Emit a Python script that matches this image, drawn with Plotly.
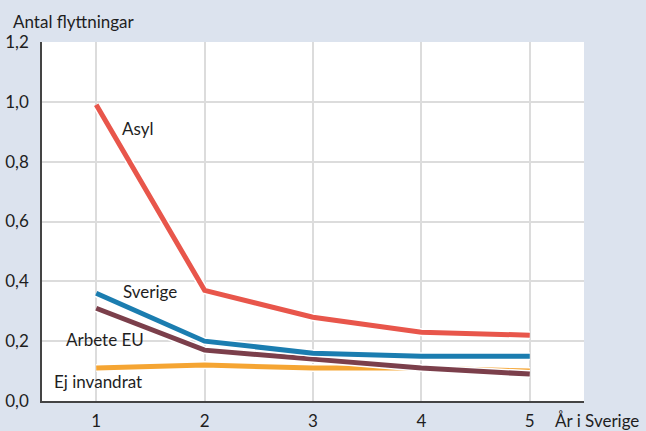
import plotly.graph_objects as go

years = [1, 2, 3, 4, 5]
asyl = [0.99, 0.37, 0.28, 0.23, 0.22]
sverige = [0.36, 0.20, 0.16, 0.15, 0.15]
arbete_eu = [0.31, 0.17, 0.14, 0.11, 0.09]
ej_invandrat = [0.11, 0.12, 0.11, 0.11, 0.10]
y_ticks = [0, 0.2, 0.4, 0.6, 0.8, 1.0, 1.2]
y_tick_labels = ["0,0", "0,2", "0,4", "0,6", "0,8", "1,0", "1,2"]

series = [
    ("Ej invandrat", ej_invandrat, "#f5a533"),
    ("Arbete EU", arbete_eu, "#7b3f4b"),
    ("Sverige", sverige, "#1b7db0"),
    ("Asyl", asyl, "#e8564b"),
]

FONT = "Lato"
fig = go.Figure()
for name, vals, col in series:
    fig.add_trace(go.Scatter(x=years, y=vals, mode="lines",
                             line=dict(color="white", width=8),
                             hoverinfo="skip", showlegend=False))
    fig.add_trace(go.Scatter(x=years, y=vals, mode="lines", name=name,
                             line=dict(color=col, width=5), showlegend=False))

labels = [
    ("Asyl", 1.39, 0.91),
    ("Sverige", 1.5, 0.365),
    ("Arbete EU", 1.08, 0.204),
    ("Ej invandrat", 1.02, 0.064),
]
for txt, x, y in labels:
    fig.add_annotation(x=x, y=y, text=txt, showarrow=False,
                       font=dict(family=FONT, size=17, color="#1e1e1e"))

fig.add_annotation(xref="paper", yref="paper", x=0, y=1.0, yshift=21, xshift=-31,
                   xanchor="left", yanchor="middle", text="Antal flyttningar",
                   showarrow=False, font=dict(family=FONT, size=17, color="#1e1e1e"))
fig.add_annotation(xref="paper", yref="paper", x=1.0, y=0, yshift=-19, xshift=-31,
                   xanchor="left", yanchor="middle", text="År i Sverige",
                   showarrow=False, font=dict(family=FONT, size=17, color="#1e1e1e"))

fig.update_layout(
    width=646, height=431,
    margin=dict(l=42, r=62, t=42, b=30),
    paper_bgcolor="#dce3ee",
    plot_bgcolor="white",
    font=dict(family=FONT, size=17, color="#1e1e1e"),
    xaxis=dict(range=[0.5, 5.5], tickvals=years, showgrid=True,
               gridcolor="#dcdcdc", gridwidth=1.5, zeroline=False,
               showline=True, linecolor="#444444", linewidth=1.5,
               ticks="", ticklabelstandoff=4, automargin=False),
    yaxis=dict(range=[0, 1.2], tickvals=y_ticks, ticktext=y_tick_labels,
               showgrid=True, gridcolor="#dcdcdc", gridwidth=1.5, zeroline=False,
               showline=True, linecolor="#444444", linewidth=1.5,
               ticks="", ticklabelstandoff=8, automargin=False),
)
fig.write_html("out.html",
               config={"displayModeBar": False, "responsive": False},
               default_width="646px", default_height="431px",
               post_script="document.body.style.margin='0';document.body.style.overflow='hidden';")
